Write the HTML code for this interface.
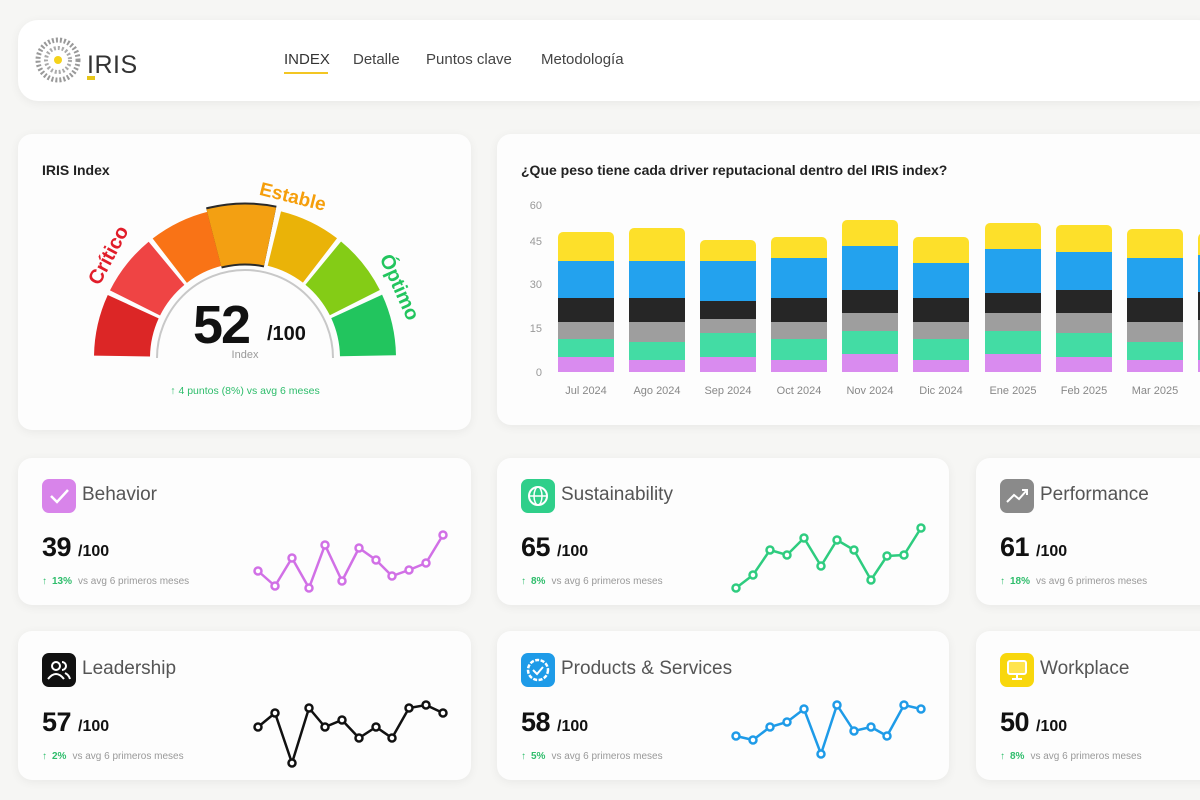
<!DOCTYPE html>
<html><head><meta charset="utf-8"><style>
*{margin:0;padding:0;box-sizing:border-box}
body{width:1200px;height:800px;overflow:hidden;background:#f6f6f4;font-family:"Liberation Sans",sans-serif;position:relative}
.card{position:absolute;background:#fdfdfd;border-radius:14px;box-shadow:0 2px 10px rgba(0,0,0,0.06)}
.nav{position:absolute;top:51px;font-size:15px;color:#444}
.ic{position:absolute;left:24px;top:21px;width:34px;height:34px;border-radius:7px}
.ttl{position:absolute;left:64px;top:26px;font-size:19px;color:#555}
.val{position:absolute;left:24px;top:74px;font-size:27px;font-weight:bold;color:#111;letter-spacing:-0.5px}
.val span{font-size:16px;letter-spacing:0}
.pct{position:absolute;left:24px;top:118px;font-size:10px;color:#999}
.pct b{color:#2ebd6b;font-weight:bold;margin-right:6px}
.pct i{color:#2ebd6b;font-style:normal;margin-right:5px}
svg.sp{position:absolute;left:0;top:0}
</style></head><body>

<div class="card" style="left:18px;top:20px;width:1200px;height:81px;border-radius:20px;background:#fff"></div>
<svg style="position:absolute;left:34px;top:36px" width="115" height="50">
<circle cx="24" cy="24" r="20" fill="none" stroke="#999" stroke-width="5" stroke-dasharray="2 2"/>
<circle cx="24" cy="24" r="12" fill="none" stroke="#aaa" stroke-width="4" stroke-dasharray="2 2"/>
<circle cx="24" cy="24" r="4" fill="#f5d31b"/>
<text x="53" y="37" font-family="Liberation Sans" font-size="25" fill="#333" letter-spacing="0.5">IRIS</text>
<rect x="53" y="40" width="8" height="4" fill="#e6c619"/>
</svg>
<div class="nav" style="left:284px;color:#333;font-weight:500">INDEX</div>
<div style="position:absolute;left:284px;top:72px;width:44px;height:2px;background:#f3c623"></div>
<div class="nav" style="left:353px">Detalle</div>
<div class="nav" style="left:426px">Puntos clave</div>
<div class="nav" style="left:541px">Metodología</div>

<!-- IRIS index card -->
<div class="card" style="left:18px;top:134px;width:453px;height:296px"></div>
<div style="position:absolute;left:42px;top:162px;font-size:14px;font-weight:bold;color:#222">IRIS Index</div>
<svg style="position:absolute;left:0;top:0" width="480" height="430">
<defs><clipPath id="top"><rect x="0" y="0" width="480" height="358"/></clipPath></defs>
<g clip-path="url(#top)">
<circle cx="245" cy="358" r="123" fill="none" stroke="#dc2626" stroke-width="56" stroke-dasharray="51 722" transform="rotate(180.9 245 358)"/>
<circle cx="245" cy="358" r="123" fill="none" stroke="#ef4444" stroke-width="56" stroke-dasharray="51 722" transform="rotate(206.6 245 358)"/>
<circle cx="245" cy="358" r="123" fill="none" stroke="#f97316" stroke-width="56" stroke-dasharray="51 722" transform="rotate(232.3 245 358)"/>
<circle cx="245" cy="358" r="124" fill="none" stroke="#2a2a2a" stroke-width="63" stroke-dasharray="55 722" transform="rotate(256.3 245 358)"/>
<circle cx="245" cy="358" r="124" fill="none" stroke="#f3a012" stroke-width="59" stroke-dasharray="53 722" transform="rotate(257.2 245 358)"/>
<circle cx="245" cy="358" r="123" fill="none" stroke="#eab308" stroke-width="56" stroke-dasharray="51 722" transform="rotate(283.8 245 358)"/>
<circle cx="245" cy="358" r="123" fill="none" stroke="#84cc16" stroke-width="56" stroke-dasharray="51 722" transform="rotate(309.5 245 358)"/>
<circle cx="245" cy="358" r="123" fill="none" stroke="#22c55e" stroke-width="56" stroke-dasharray="51 722" transform="rotate(335.2 245 358)"/>
<circle cx="245" cy="358" r="88" fill="#fdfdfd" stroke="#c8c8c8" stroke-width="2"/>
</g>
<text x="108" y="262" font-size="20" font-weight="bold" fill="#e11d2a" text-anchor="middle" transform="rotate(-62 108 255)">Crítico</text>
<text x="293" y="203" font-size="19" font-weight="bold" fill="#f59e0b" text-anchor="middle" transform="rotate(14 293 196)">Estable</text>
<text x="400" y="294" font-size="20" font-weight="bold" fill="#22c55e" text-anchor="middle" transform="rotate(66 400 287)">Óptimo</text>
<text x="193" y="343" font-size="54" font-weight="bold" fill="#111" letter-spacing="-2">52</text>
<text x="267" y="340" font-size="20" font-weight="bold" fill="#111">/100</text>
<text x="245" y="358" font-size="11" fill="#999" text-anchor="middle">Index</text>
<text x="245" y="394" font-size="10.5" fill="#2ebd6b" text-anchor="middle">↑  4 puntos (8%) vs avg 6 meses</text>
</svg>

<!-- bar chart card -->
<div class="card" style="left:497px;top:134px;width:720px;height:291px"></div>
<div style="position:absolute;left:521px;top:162px;font-size:14px;font-weight:bold;color:#222">¿Que peso tiene cada driver reputacional dentro del IRIS index?</div>
<svg style="position:absolute;left:0;top:0" width="1200" height="430" font-family="Liberation Sans">
<g font-size="11" fill="#999" text-anchor="end">
<text x="542" y="209">60</text><text x="542" y="245">45</text><text x="542" y="288">30</text><text x="542" y="332">15</text><text x="542" y="376">0</text>
</g>
<g font-size="11" fill="#888" text-anchor="middle">
<text x="586" y="394">Jul 2024</text><text x="657" y="394">Ago 2024</text><text x="728" y="394">Sep 2024</text><text x="799" y="394">Oct 2024</text><text x="870" y="394">Nov 2024</text><text x="941" y="394">Dic 2024</text><text x="1013" y="394">Ene 2025</text><text x="1084" y="394">Feb 2025</text><text x="1155" y="394">Mar 2025</text>
</g>
<g>
<rect x="558" y="232" width="56" height="40" rx="5" fill="#fde02a"/><rect x="558" y="261" width="56" height="37" fill="#23a2ee"/><rect x="558" y="298" width="56" height="24" fill="#262626"/><rect x="558" y="322" width="56" height="17" fill="#9e9e9e"/><rect x="558" y="339" width="56" height="18" fill="#43dca4"/><rect x="558" y="357" width="56" height="15" fill="#d98bef"/>
<rect x="629" y="228" width="56" height="40" rx="5" fill="#fde02a"/><rect x="629" y="261" width="56" height="37" fill="#23a2ee"/><rect x="629" y="298" width="56" height="24" fill="#262626"/><rect x="629" y="322" width="56" height="20" fill="#9e9e9e"/><rect x="629" y="342" width="56" height="18" fill="#43dca4"/><rect x="629" y="360" width="56" height="12" fill="#d98bef"/>
<rect x="700" y="240" width="56" height="30" rx="5" fill="#fde02a"/><rect x="700" y="261" width="56" height="40" fill="#23a2ee"/><rect x="700" y="301" width="56" height="18" fill="#262626"/><rect x="700" y="319" width="56" height="14" fill="#9e9e9e"/><rect x="700" y="333" width="56" height="24" fill="#43dca4"/><rect x="700" y="357" width="56" height="15" fill="#d98bef"/>
<rect x="771" y="237" width="56" height="30" rx="5" fill="#fde02a"/><rect x="771" y="258" width="56" height="40" fill="#23a2ee"/><rect x="771" y="298" width="56" height="24" fill="#262626"/><rect x="771" y="322" width="56" height="17" fill="#9e9e9e"/><rect x="771" y="339" width="56" height="21" fill="#43dca4"/><rect x="771" y="360" width="56" height="12" fill="#d98bef"/>
<rect x="842" y="220" width="56" height="40" rx="5" fill="#fde02a"/><rect x="842" y="246" width="56" height="44" fill="#23a2ee"/><rect x="842" y="290" width="56" height="23" fill="#262626"/><rect x="842" y="313" width="56" height="18" fill="#9e9e9e"/><rect x="842" y="331" width="56" height="23" fill="#43dca4"/><rect x="842" y="354" width="56" height="18" fill="#d98bef"/>
<rect x="913" y="237" width="56" height="40" rx="5" fill="#fde02a"/><rect x="913" y="263" width="56" height="35" fill="#23a2ee"/><rect x="913" y="298" width="56" height="24" fill="#262626"/><rect x="913" y="322" width="56" height="17" fill="#9e9e9e"/><rect x="913" y="339" width="56" height="21" fill="#43dca4"/><rect x="913" y="360" width="56" height="12" fill="#d98bef"/>
<rect x="985" y="223" width="56" height="40" rx="5" fill="#fde02a"/><rect x="985" y="249" width="56" height="44" fill="#23a2ee"/><rect x="985" y="293" width="56" height="20" fill="#262626"/><rect x="985" y="313" width="56" height="18" fill="#9e9e9e"/><rect x="985" y="331" width="56" height="23" fill="#43dca4"/><rect x="985" y="354" width="56" height="18" fill="#d98bef"/>
<rect x="1056" y="225" width="56" height="40" rx="5" fill="#fde02a"/><rect x="1056" y="252" width="56" height="38" fill="#23a2ee"/><rect x="1056" y="290" width="56" height="23" fill="#262626"/><rect x="1056" y="313" width="56" height="20" fill="#9e9e9e"/><rect x="1056" y="333" width="56" height="24" fill="#43dca4"/><rect x="1056" y="357" width="56" height="15" fill="#d98bef"/>
<rect x="1127" y="229" width="56" height="40" rx="5" fill="#fde02a"/><rect x="1127" y="258" width="56" height="40" fill="#23a2ee"/><rect x="1127" y="298" width="56" height="24" fill="#262626"/><rect x="1127" y="322" width="56" height="20" fill="#9e9e9e"/><rect x="1127" y="342" width="56" height="18" fill="#43dca4"/><rect x="1127" y="360" width="56" height="12" fill="#d98bef"/>
<rect x="1198" y="233" width="56" height="40" rx="5" fill="#fde02a"/><rect x="1198" y="255" width="56" height="37" fill="#23a2ee"/><rect x="1198" y="292" width="56" height="28" fill="#262626"/><rect x="1198" y="320" width="56" height="20" fill="#9e9e9e"/><rect x="1198" y="340" width="56" height="20" fill="#43dca4"/><rect x="1198" y="360" width="56" height="12" fill="#d98bef"/>
</g>
</svg>

<!-- small cards -->
<div class="card" style="left:18px;top:458px;width:453px;height:147px">
<div class="ic" style="background:#d884ea"><svg width="34" height="34"><path d="M9 17 l6 6 l11 -12" fill="none" stroke="#fff" stroke-width="2.5"/></svg></div>
<div class="ttl">Behavior</div><div class="val">39 <span>/100</span></div>
<div class="pct"><i>↑</i><b>13%</b>vs avg 6 primeros meses</div></div>

<div class="card" style="left:497px;top:458px;width:452px;height:147px">
<div class="ic" style="background:#2fcf8a"><svg width="34" height="34"><circle cx="17" cy="17" r="9" fill="none" stroke="#fff" stroke-width="2"/><ellipse cx="17" cy="17" rx="4" ry="9" fill="none" stroke="#fff" stroke-width="1.5"/><line x1="8" y1="17" x2="26" y2="17" stroke="#fff" stroke-width="1.5"/></svg></div>
<div class="ttl">Sustainability</div><div class="val">65 <span>/100</span></div>
<div class="pct"><i>↑</i><b>8%</b>vs avg 6 primeros meses</div></div>

<div class="card" style="left:976px;top:458px;width:260px;height:147px">
<div class="ic" style="background:#8a8a8a"><svg width="34" height="34"><path d="M7 23 l7 -7 l5 4 l8 -9 m-5 0 h5 v5" fill="none" stroke="#fff" stroke-width="2"/></svg></div>
<div class="ttl">Performance</div><div class="val">61 <span>/100</span></div>
<div class="pct"><i>↑</i><b>18%</b>vs avg 6 primeros meses</div></div>

<div class="card" style="left:18px;top:631px;width:453px;height:149px">
<div class="ic" style="background:#111;top:22px"><svg width="34" height="34"><circle cx="14" cy="13" r="4" fill="none" stroke="#fff" stroke-width="2"/><path d="M6 26 q8 -10 16 0" fill="none" stroke="#fff" stroke-width="2"/><path d="M20 9 a4 4 0 0 1 0 8 M23 20 q4 2 5 6" fill="none" stroke="#fff" stroke-width="2"/></svg></div>
<div class="ttl" style="top:27px">Leadership</div><div class="val" style="top:76px">57 <span>/100</span></div>
<div class="pct" style="top:120px"><i>↑</i><b>2%</b>vs avg 6 primeros meses</div></div>

<div class="card" style="left:497px;top:631px;width:452px;height:149px">
<div class="ic" style="background:#1e9be8;top:22px"><svg width="34" height="34"><circle cx="17" cy="17" r="10" fill="none" stroke="#fff" stroke-width="2.5" stroke-dasharray="4 1.5"/><path d="M12 17 l4 4 l6 -7" fill="none" stroke="#fff" stroke-width="2"/></svg></div>
<div class="ttl" style="top:27px">Products &amp; Services</div><div class="val" style="top:76px">58 <span>/100</span></div>
<div class="pct" style="top:120px"><i>↑</i><b>5%</b>vs avg 6 primeros meses</div></div>

<div class="card" style="left:976px;top:631px;width:260px;height:149px">
<div class="ic" style="background:#f8d70c;top:22px"><svg width="34" height="34"><rect x="8" y="8" width="18" height="13" rx="2" fill="#ffe44d" stroke="#fff" stroke-width="2"/><path d="M17 21 v5 M12 26 h10" stroke="#fff" stroke-width="2"/></svg></div>
<div class="ttl" style="top:27px">Workplace</div><div class="val" style="top:76px">50 <span>/100</span></div>
<div class="pct" style="top:120px"><i>↑</i><b>8%</b>vs avg 6 primeros meses</div></div>

<svg class="sp" width="1200" height="800">
<g fill="#fff" stroke-width="2.5">
<polyline stroke="#d170e6" fill="none" points="258,571 275,586 292,558 309,588 325,545 342,581 359,548 376,560 392,576 409,570 426,563 443,535"/>
<g stroke="#d170e6"><circle cx="258" cy="571" r="3.5"/><circle cx="275" cy="586" r="3.5"/><circle cx="292" cy="558" r="3.5"/><circle cx="309" cy="588" r="3.5"/><circle cx="325" cy="545" r="3.5"/><circle cx="342" cy="581" r="3.5"/><circle cx="359" cy="548" r="3.5"/><circle cx="376" cy="560" r="3.5"/><circle cx="392" cy="576" r="3.5"/><circle cx="409" cy="570" r="3.5"/><circle cx="426" cy="563" r="3.5"/><circle cx="443" cy="535" r="3.5"/></g>
<polyline stroke="#2ecc7f" fill="none" points="736,588 753,575 770,550 787,555 804,538 821,566 837,540 854,550 871,580 887,556 904,555 921,528"/>
<g stroke="#2ecc7f"><circle cx="736" cy="588" r="3.5"/><circle cx="753" cy="575" r="3.5"/><circle cx="770" cy="550" r="3.5"/><circle cx="787" cy="555" r="3.5"/><circle cx="804" cy="538" r="3.5"/><circle cx="821" cy="566" r="3.5"/><circle cx="837" cy="540" r="3.5"/><circle cx="854" cy="550" r="3.5"/><circle cx="871" cy="580" r="3.5"/><circle cx="887" cy="556" r="3.5"/><circle cx="904" cy="555" r="3.5"/><circle cx="921" cy="528" r="3.5"/></g>
<polyline stroke="#111" fill="none" points="258,727 275,713 292,763 309,708 325,727 342,720 359,738 376,727 392,738 409,708 426,705 443,713"/>
<g stroke="#111"><circle cx="258" cy="727" r="3.5"/><circle cx="275" cy="713" r="3.5"/><circle cx="292" cy="763" r="3.5"/><circle cx="309" cy="708" r="3.5"/><circle cx="325" cy="727" r="3.5"/><circle cx="342" cy="720" r="3.5"/><circle cx="359" cy="738" r="3.5"/><circle cx="376" cy="727" r="3.5"/><circle cx="392" cy="738" r="3.5"/><circle cx="409" cy="708" r="3.5"/><circle cx="426" cy="705" r="3.5"/><circle cx="443" cy="713" r="3.5"/></g>
<polyline stroke="#1e9be8" fill="none" points="736,736 753,740 770,727 787,722 804,709 821,754 837,705 854,731 871,727 887,736 904,705 921,709"/>
<g stroke="#1e9be8"><circle cx="736" cy="736" r="3.5"/><circle cx="753" cy="740" r="3.5"/><circle cx="770" cy="727" r="3.5"/><circle cx="787" cy="722" r="3.5"/><circle cx="804" cy="709" r="3.5"/><circle cx="821" cy="754" r="3.5"/><circle cx="837" cy="705" r="3.5"/><circle cx="854" cy="731" r="3.5"/><circle cx="871" cy="727" r="3.5"/><circle cx="887" cy="736" r="3.5"/><circle cx="904" cy="705" r="3.5"/><circle cx="921" cy="709" r="3.5"/></g>
</g>
</svg>
</body></html>
